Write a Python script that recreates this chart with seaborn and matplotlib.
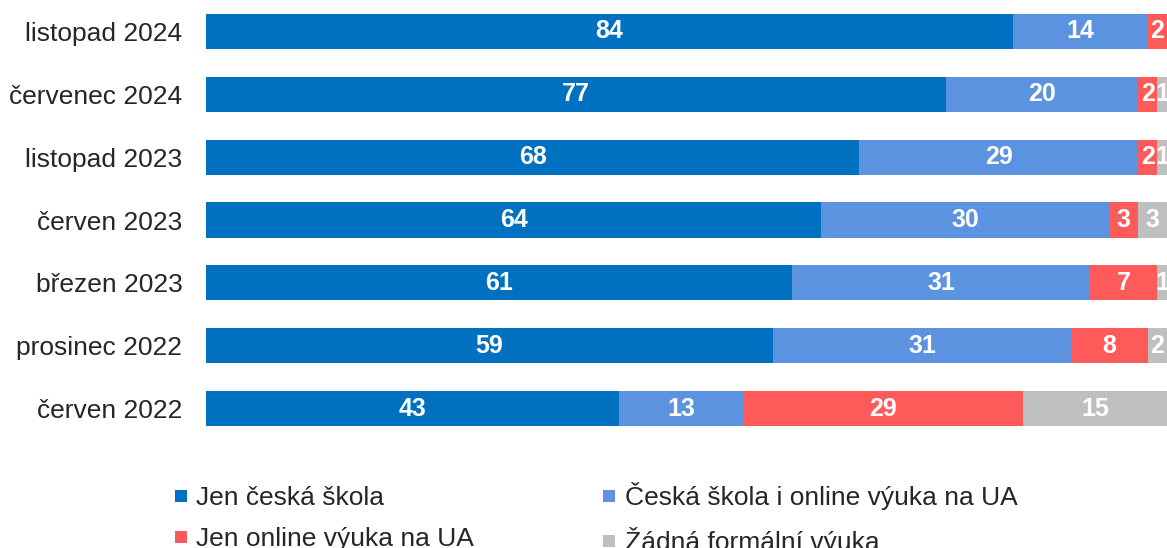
import numpy as np
import pandas as pd
import seaborn as sns
import matplotlib.pyplot as plt
from matplotlib.lines import Line2D

periods = ['listopad 2024', 'červenec 2024', 'listopad 2023', 'červen 2023',
           'březen 2023', 'prosinec 2022', 'červen 2022']
series = ['Jen česká škola', 'Česká škola i online výuka na UA',
          'Jen online výuka na UA', 'Žádná formální výuka']
cz_only = [84, 77, 68, 64, 61, 59, 43]
cz_online = [14, 20, 29, 30, 31, 31, 13]
online_only = [2, 2, 2, 3, 7, 8, 29]
none = [0, 1, 1, 3, 1, 2, 15]
colors = ['#0070C0', '#5B93E0', '#FF5A5A', '#BFBFBF']

sns.set_style('white')
plt.rcParams['font.family'] = ['Liberation Sans', 'DejaVu Sans']

vals = np.array([cz_only, cz_online, online_only, none], dtype=float)
cum = vals.cumsum(axis=0)

fig = plt.figure(figsize=(11.67, 5.48), dpi=100)
ax = fig.add_axes([0.1765, 0.197, 0.8235, 0.803])

# draw cumulative totals from widest to narrowest so they stack visually
for i in range(3, -1, -1):
    df = pd.DataFrame({'period': periods, 'value': cum[i]})
    sns.barplot(data=df, y='period', x='value', color=colors[i], orient='h',
                width=0.56, saturation=1, linewidth=0, ax=ax)

for i in range(4):
    for j in range(len(periods)):
        v = vals[i, j]
        if v <= 0:
            continue
        xc = cum[i, j] - v / 2
        ax.text(xc, j, f'{int(v)}', ha='center', va='center', color='white',
                fontsize=18, fontweight='bold')

ax.set_xlim(0, 100)
ax.set_ylim(6.5, -0.5)
ax.set_xlabel('')
ax.set_ylabel('')
ax.set_xticks([])
ax.tick_params(axis='y', length=0, pad=17, labelsize=19)
sns.despine(ax=ax, left=True, bottom=True)

# legend fills column-wise, so order entries to read row by row
order = [0, 2, 1, 3]
handles = [Line2D([], [], marker='s', linestyle='none', markersize=8,
                  markerfacecolor=colors[k], markeredgewidth=0) for k in order]
labels = [series[k] for k in order]
fig.legend(handles, labels, ncol=2, frameon=False, fontsize=19,
           loc='upper left', bbox_to_anchor=(0.148, 0.12),
           handlelength=0.6, handletextpad=0.3, columnspacing=4.8,
           labelspacing=0.65, borderpad=0, borderaxespad=0)

fig.savefig('out.png', dpi=100)
